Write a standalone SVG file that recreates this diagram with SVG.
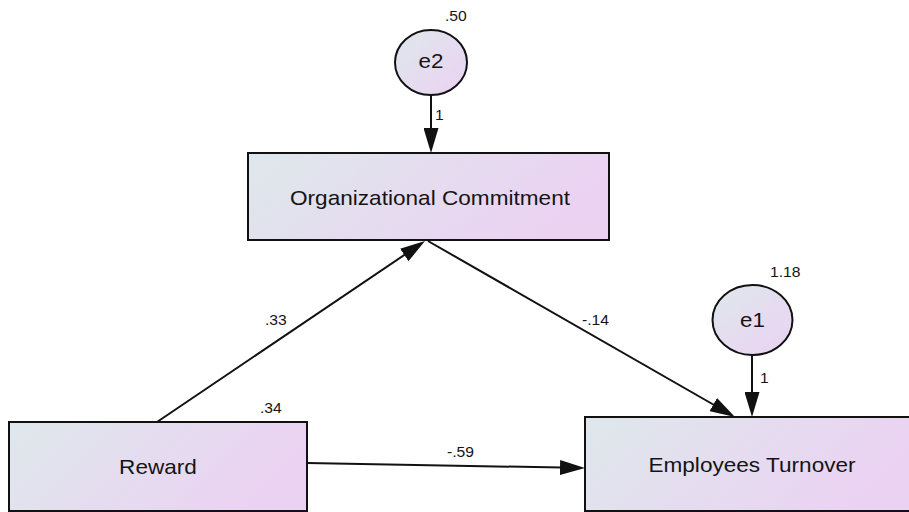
<svg xmlns="http://www.w3.org/2000/svg" width="909" height="512" viewBox="0 0 909 512">
  <style>
    .box { fill: url(#fillGrad); stroke: #111; stroke-width: 2; }
    .lat { fill: url(#fillGradDiag); stroke: #111; stroke-width: 2; }
    .path { stroke: #111; stroke-width: 2; fill: none; marker-end: url(#ah); }
    .name { font-family: "Liberation Sans", Arial, sans-serif; font-size: 20px; fill: #141414; text-anchor: middle; }
    .est { font-family: "Liberation Sans", Arial, sans-serif; font-size: 14px; fill: #141414; }
  </style>
  <defs>
    <linearGradient id="fillGrad" x1="0" y1="0" x2="1" y2="0.3">
      <stop offset="0" stop-color="#dee8eb"/>
      <stop offset="1" stop-color="#ebd2f3"/>
    </linearGradient>
    <linearGradient id="fillGradDiag" x1="0" y1="0" x2="1" y2="1">
      <stop offset="0" stop-color="#dee8eb"/>
      <stop offset="1" stop-color="#ebd2f3"/>
    </linearGradient>
    <marker id="ah" viewBox="0 0 25 15" refX="15" refY="7.5" markerWidth="25" markerHeight="15" orient="auto" markerUnits="userSpaceOnUse">
      <path d="M0,0 L25,7.5 L0,15 z" fill="#111"/>
    </marker>
  </defs>

  <rect width="909" height="512" fill="#ffffff"/>

  <!-- regression paths and error paths -->
  <g id="connectors">
    <line class="path" x1="431" y1="95" x2="431" y2="143"/>
    <line class="path" x1="752" y1="355" x2="752" y2="407"/>
    <line class="path" x1="157" y1="422" x2="416.7" y2="246.6"/>
    <line class="path" x1="428" y1="241" x2="726.3" y2="412"/>
    <line class="path" x1="307" y1="463" x2="575" y2="467.8"/>
  </g>

  <g id="e2">
    <ellipse class="lat" cx="431" cy="62.5" rx="36" ry="32.5"/>
    <text class="name" transform="translate(431,68) scale(1.12,1)">e2</text>
    <text class="est" transform="translate(445,21) scale(1.12,1)">.50</text>
  </g>

  <g id="e1">
    <ellipse class="lat" cx="752.5" cy="320" rx="40" ry="35"/>
    <text class="name" transform="translate(752.5,327) scale(1.12,1)">e1</text>
    <text class="est" transform="translate(770,277) scale(1.12,1)">1.18</text>
  </g>

  <g id="organizational-commitment">
    <rect class="box" x="248" y="153" width="361" height="87"/>
    <text class="name" transform="translate(430,205) scale(1.13,1)">Organizational Commitment</text>
  </g>

  <g id="reward">
    <rect class="box" x="9" y="422" width="298" height="89"/>
    <text class="name" transform="translate(158,474) scale(1.13,1)">Reward</text>
    <text class="est" transform="translate(260,413) scale(1.12,1)">.34</text>
  </g>

  <g id="employees-turnover">
    <rect class="box" x="585" y="417" width="334" height="94"/>
    <text class="name" transform="translate(752,472) scale(1.13,1)">Employees Turnover</text>
  </g>

  <g id="path-labels">
    <text class="est" transform="translate(435,120) scale(1.12,1)">1</text>
    <text class="est" transform="translate(760,383) scale(1.12,1)">1</text>
    <text class="est" transform="translate(265,325) scale(1.12,1)">.33</text>
    <text class="est" transform="translate(582,325) scale(1.12,1)">-.14</text>
    <text class="est" transform="translate(447,457) scale(1.12,1)">-.59</text>
  </g>
</svg>
